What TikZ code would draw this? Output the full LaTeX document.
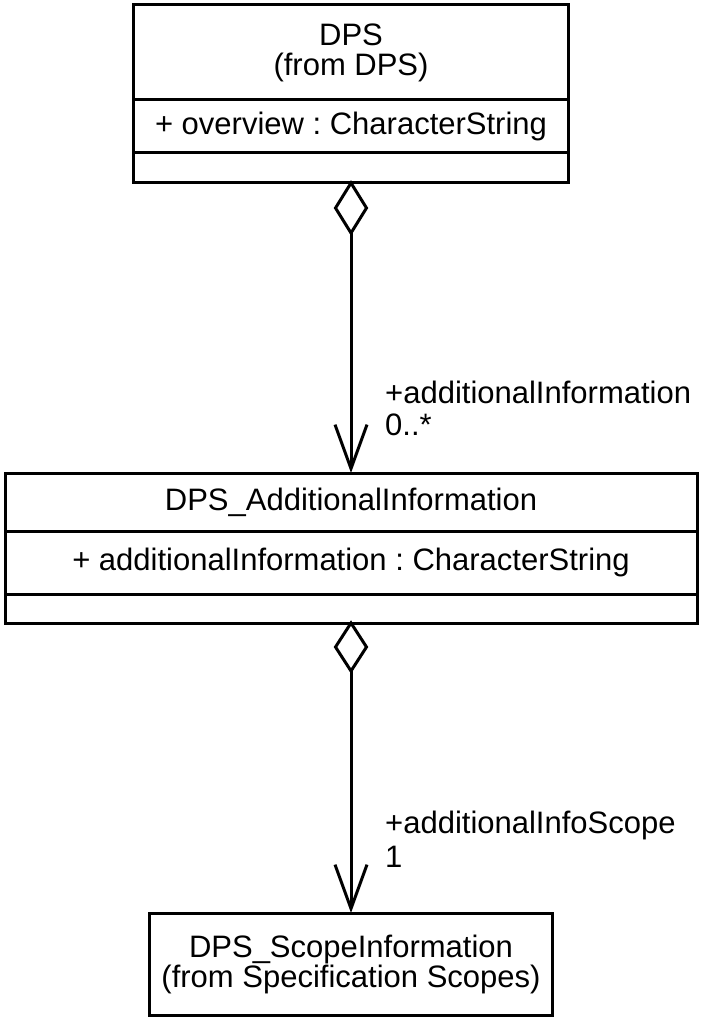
\documentclass[tikz,border=0pt]{standalone}
\usepackage{fontspec}
\setmainfont{Liberation Sans}
\frenchspacing
\usetikzlibrary{positioning}
\usetikzlibrary{shapes.geometric}
\usetikzlibrary{arrows.meta}
\tikzset{comp/.style = {draw, line width = 3, inner sep = 0, outer sep = 0, align = center}}
\tikzset{agg/.style = {draw, diamond, line width = 3, inner sep = 0, outer sep = 0, minimum width = 31}}
\tikzset{assoc/.style = {line width = 3, -{Straight Barb[length = 44, width = 32, line width = 3]}}}
\tikzset{role/.style = {anchor = base west, inner sep = 0}}

\begin{document}
\begin{tikzpicture}[x = 1pt, y = -1pt, font = \fontsize{31}{30}\selectfont]
    \useasboundingbox (0, 0) rectangle (703, 1024);

    \node [comp, minimum width = 435, minimum height = 95] (dpsname) at (351, 52.5) {DPS\\(from DPS)};
    \node [comp, minimum width = 435, minimum height = 53, below = 0pt of dpsname] (dpsattr) {+ overview : CharacterString};
    \node [comp, minimum width = 435, minimum height = 30, below = 0pt of dpsattr] (dpsops) {};

    \node [comp, minimum width = 692, minimum height = 58] (addname) at (351, 502) {DPS\_AdditionalInformation};
    \node [comp, minimum width = 692, minimum height = 63, below = 0pt of addname] (addattr) {+ additionalInformation : CharacterString};
    \node [comp, minimum width = 692, minimum height = 29, below = 0pt of addattr] (addops) {};

    \node [comp, minimum width = 403, minimum height = 102] (scope) at (351, 964) {DPS\_ScopeInformation\\(from Specification Scopes)};

    \node [agg, minimum height = 50, anchor = north] (agg1) at (dpsops.south) {};
    \node [agg, minimum height = 48, anchor = north] (agg2) at (addops.south) {};

    \draw [assoc] (agg1.south) -- (addname.north);
    \draw [assoc] (agg2.south) -- (scope.north);

    \node [role] (role1) at (385, 403) {+additionalInformation};
    \node [role] (mult1) at (385, 435) {0..*};
    \node [role] (role2) at (385, 833) {+additionalInfoScope};
    \node [role] (mult2) at (385, 867) {1};
  \end{tikzpicture}
\end{document}
